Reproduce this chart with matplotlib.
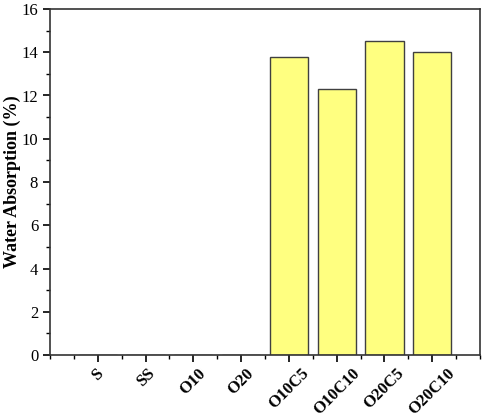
import matplotlib
matplotlib.use("Agg")
import matplotlib.pyplot as plt
from matplotlib.ticker import MultipleLocator

categories = ["S", "SS", "O10", "O20", "O10C5", "O10C10", "O20C5", "O20C10"]
values = [0, 0, 0, 0, 13.8, 12.3, 14.5, 14.0]

plt.rcParams['font.family'] = ['Liberation Serif', 'DejaVu Serif']

fig = plt.figure(figsize=(4.84, 4.19), dpi=100)
ax = fig.add_axes([50/484, 1-355/419, 430/484, 346/419])
x = list(range(len(categories)))
ax.bar(x, values, width=0.8, color="#FFFF80", edgecolor="#404040", linewidth=1.0, zorder=2)
ax.set_xlim(-1, 8)
ax.set_ylim(0, 16)
ax.set_xticks(x)
ax.set_xticklabels(categories, rotation=45, ha="center", fontweight="bold", fontsize=10.5)
ax.xaxis.set_minor_locator(MultipleLocator(0.5))
ax.yaxis.set_major_locator(MultipleLocator(2))
ax.yaxis.set_minor_locator(MultipleLocator(1))
ax.tick_params(axis='both', which='major', direction='out', length=5, width=1.2, labelsize=12, top=False, right=False)
ax.tick_params(axis='both', which='minor', direction='out', length=3, width=1.0, top=False, right=False)
ax.tick_params(axis='x', which='major', pad=2.5)
ax.set_ylabel("Water Absorption (%)", fontweight="bold", fontsize=13, labelpad=0)
for s in ax.spines.values():
    s.set_linewidth(1.2)
    s.set_color("#333333")
fig.savefig("out.png", dpi=100)
